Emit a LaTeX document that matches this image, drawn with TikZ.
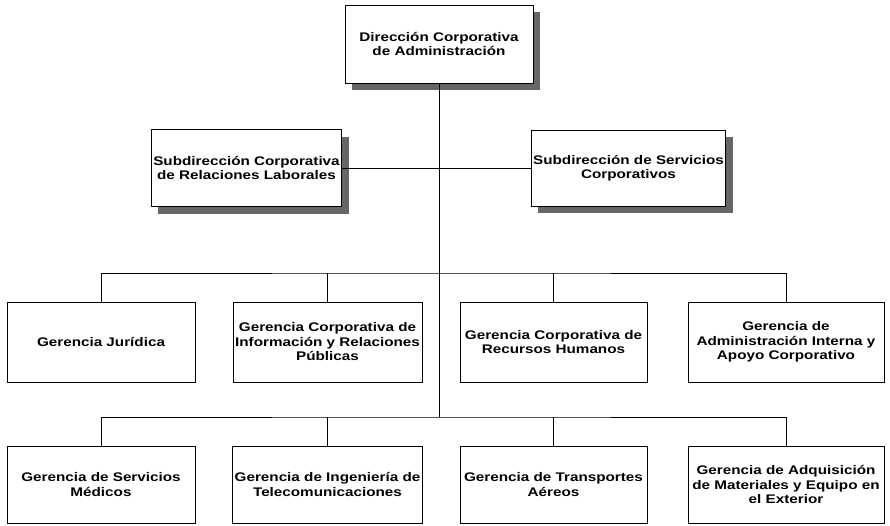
\documentclass[tikz,border=0pt]{standalone}
\usepackage{fontspec}
\newfontfamily\orgfont[FakeStretch=1.22]{Liberation Sans}
\usetikzlibrary{shadows}
\begin{document}
\begin{tikzpicture}[x=1pt,y=-1pt,
  unit/.style={draw=black, line width=1pt, fill=white, align=center,
    inner sep=2pt, font=\orgfont\bfseries\fontsize{12.5}{14.5}\selectfont},
  shadowed/.style={drop shadow={shadow xshift=7pt, shadow yshift=-7pt,
    fill=black!60, opacity=1}},
  link/.style={draw=black, line width=1pt}]
\useasboundingbox (0,0) rectangle (890,525);

% junction points on the two horizontal buses
\coordinate (bus2) at (439,273);
\coordinate (bus3) at (439,417);

% top level
\node[unit, shadowed, minimum width=188pt, minimum height=78pt] (dir) at (439,44)
  {Dirección Corporativa\\de Administración};

% subdirections
\node[unit, shadowed, minimum width=189pt, minimum height=77pt] (subL) at (246.5,168)
  {Subdirección Corporativa\\de Relaciones Laborales};
\node[unit, shadowed, minimum width=189pt, minimum height=76pt] (subR) at (628.5,168)
  {Subdirección de Servicios\\Corporativos};

% managements, first row
\node[unit, minimum width=188pt, minimum height=80pt] (g1) at (101,342)
  {Gerencia Jurídica};
\node[unit, minimum width=189pt, minimum height=80pt] (g2) at (327.5,342)
  {Gerencia Corporativa de\\Información y Relaciones\\Públicas};
\node[unit, minimum width=187pt, minimum height=80pt] (g3) at (553.5,342)
  {Gerencia Corporativa de\\Recursos Humanos};
\node[unit, minimum width=196pt, minimum height=80pt] (g4) at (786,342)
  {Gerencia de\\Administración Interna y\\Apoyo Corporativo};

% managements, second row
\node[unit, minimum width=188pt, minimum height=77pt] (g5) at (101,484.5)
  {Gerencia de Servicios\\Médicos};
\node[unit, minimum width=189pt, minimum height=77pt] (g6) at (327.5,484.5)
  {Gerencia de Ingeniería de\\Telecomunicaciones};
\node[unit, minimum width=187pt, minimum height=77pt] (g7) at (553.5,484.5)
  {Gerencia de Transportes\\Aéreos};
\node[unit, minimum width=196pt, minimum height=77pt] (g8) at (786,484.5)
  {Gerencia de Adquisición\\de Materiales y Equipo en\\el Exterior};

% tree lines
\draw[link] (dir.south) -- (bus3);
\draw[link] (subL.east) -- (subR.west);
\draw[link] (g1.north) |- (bus2) -| (g4.north);
\draw[link] (g2.north) -- (g2.north |- bus2);
\draw[link] (g3.north) -- (g3.north |- bus2);
\draw[link] (g5.north) |- (bus3) -| (g8.north);
\draw[link] (g6.north) -- (g6.north |- bus3);
\draw[link] (g7.north) -- (g7.north |- bus3);
\end{tikzpicture}
\end{document}
